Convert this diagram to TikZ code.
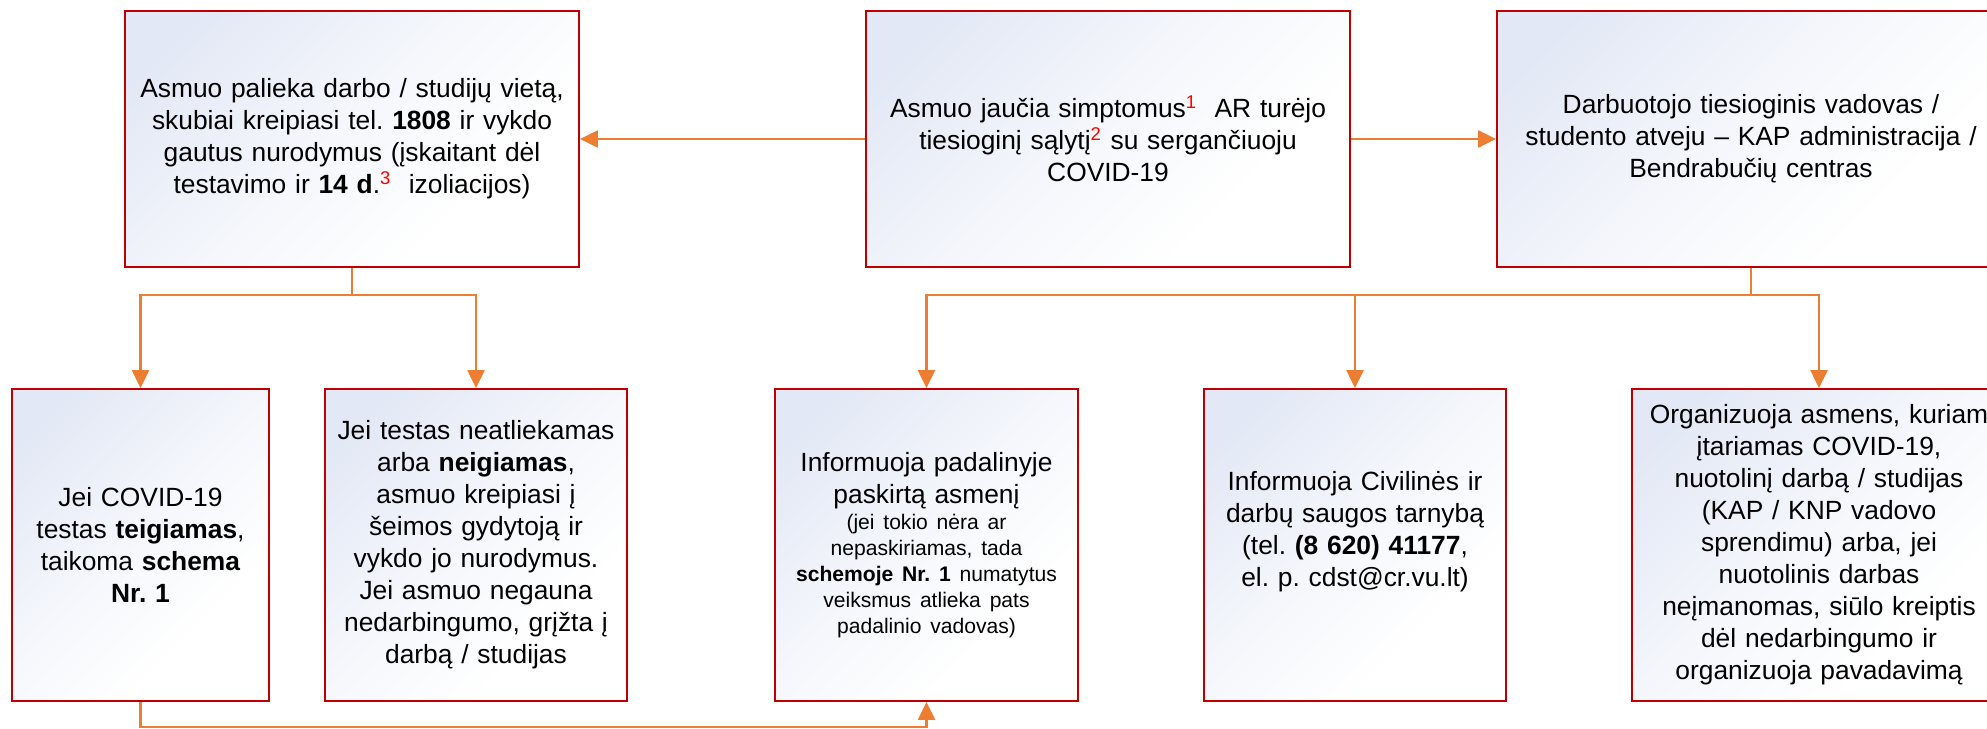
\documentclass[tikz,border=0pt]{standalone}
\usepackage{fontspec}
\setmainfont{Liberation Sans}
\usetikzlibrary{arrows.meta,positioning}
\definecolor{boxred}{RGB}{192,0,0}
\definecolor{flowline}{RGB}{237,125,49}
\definecolor{boxtint}{RGB}{226,232,245}
\pgfdeclarehorizontalshading{boxfade}{100bp}{color(0bp)=(boxtint); color(22bp)=(boxtint); color(48bp)=(boxtint!35!white); color(68bp)=(white); color(100bp)=(white)}
\newcommand{\fn}[1]{\textsuperscript{\color{red}#1}}
\newcommand{\smalltxt}{\fontsize{12}{14.8}\selectfont}
\frenchspacing

\begin{document}
\begin{tikzpicture}[
  font=\fontsize{15}{18.2}\selectfont, >={Triangle[length=3.6mm,width=3.4mm]},
  stepbox/.style={rectangle, draw=boxred, line width=1.1pt, shading=boxfade, shading angle=-45, align=center, inner sep=0pt},
  topbox/.style={stepbox, minimum height=5.12cm},
  lowbox/.style={stepbox, minimum height=6.24cm},
  flow/.style={draw=flowline, line width=1.4pt}
]
\useasboundingbox (0,0) rectangle (39.74,-14.58);

% upper row
\node[topbox, minimum width=9.08cm, text width=8.9cm] (leave) at (7.04,-2.78) {Asmuo palieka darbo / studijų vietą,\\ skubiai kreipiasi tel. \textbf{1808} ir vykdo\\ gautus nurodymus (įskaitant dėl\\ testavimo ir \textbf{14 d}.\fn{3}\ \ izoliacijos)};
\node[topbox, minimum width=9.68cm, text width=9.5cm] (symp) at (22.16,-2.78) {Asmuo jaučia simptomus\fn{1}\ \ AR turėjo\\ tiesioginį sąlytį\fn{2} su sergančiuoju\\ COVID-19};
\node[topbox, minimum width=10.16cm, text width=10cm] (boss) at (35.02,-2.78) {Darbuotojo tiesioginis vadovas /\\ studento atveju – KAP administracija /\\ Bendrabučių centras};

% lower row
\node[lowbox, minimum width=5.14cm, text width=5cm] (pos) at (2.81,-10.90) {Jei COVID-19\\ testas \textbf{teigiamas},\\ taikoma \textbf{schema}\\ \textbf{Nr. 1}};
\node[lowbox, minimum width=6.04cm, text width=5.9cm] (neg) at (9.52,-10.90) {Jei testas neatliekamas\\ arba \textbf{neigiamas},\\ asmuo kreipiasi į\\ šeimos gydytoją ir\\ vykdo jo nurodymus.\\ Jei asmuo negauna\\ nedarbingumo, grįžta į\\ darbą / studijas};
\node[lowbox, minimum width=6.06cm, text width=5.9cm] (unit) at (18.53,-10.90) {Informuoja padalinyje\\ paskirtą asmenį\par
  {\smalltxt (jei tokio nėra ar\\ nepaskiriamas, tada\\ \textbf{schemoje Nr. 1} numatytus\\ veiksmus atlieka pats\\ padalinio vadovas)\par}};
\node[lowbox, minimum width=6.04cm, text width=5.9cm] (safety) at (27.10,-10.90) {Informuoja Civilinės ir\\ darbų saugos tarnybą\\ (tel. \textbf{(8 620) 41177},\\ el. p. cdst@cr.vu.lt)\\ \mbox{}};
\node[lowbox, minimum width=7.48cm, text width=7.3cm] (remote) at (36.38,-10.90) {Organizuoja asmens, kuriam\\ įtariamas COVID-19,\\ nuotolinį darbą / studijas\\ (KAP / KNP vadovo\\ sprendimu) arba, jei\\ nuotolinis darbas\\ neįmanomas, siūlo kreiptis\\ dėl nedarbingumo ir\\ organizuoja pavadavimą};

% connectors
\coordinate (asplit) at (7.04,-5.90);
\coordinate (csplit) at (35.02,-5.90);
\coordinate (dbottom) at (2.81,-14.54);

\draw[flow,->] (symp) -- (leave);
\draw[flow,->] (symp) -- (boss);
\draw[flow] (leave) -- (asplit);
\draw[flow,->] (asplit) -| (pos);
\draw[flow,->] (asplit) -| (neg);
\draw[flow] (boss) -- (csplit);
\draw[flow,->] (csplit) -| (unit);
\draw[flow,->] (csplit) -| (safety);
\draw[flow,->] (csplit) -| (remote);
\draw[flow,->] (pos) -- (dbottom) -| (unit);
\end{tikzpicture}
\end{document}
